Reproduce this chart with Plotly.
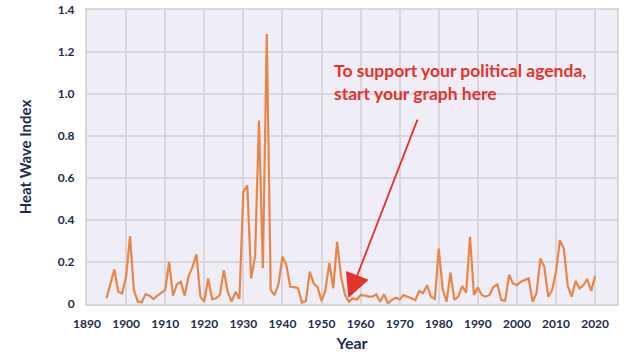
import plotly.graph_objects as go

years = list(range(1895, 2021))
heat_wave_index = [
    0.027, 0.095, 0.165, 0.058, 0.050, 0.130, 0.323, 0.066, 0.011, 0.008,  # 1895-1904
    0.047, 0.040, 0.024, 0.040, 0.053, 0.066, 0.200, 0.040, 0.093, 0.106,  # 1905-1914
    0.040, 0.133, 0.177, 0.236, 0.035, 0.011, 0.122, 0.023, 0.027, 0.043,  # 1915-1924
    0.161, 0.058, 0.011, 0.058, 0.024, 0.534, 0.565, 0.122, 0.225, 0.874,  # 1925-1934
    0.170, 1.286, 0.066, 0.043, 0.095, 0.225, 0.185, 0.082, 0.080, 0.075,  # 1935-1944
    0.006, 0.014, 0.154, 0.098, 0.080, 0.014, 0.066, 0.196, 0.075, 0.296,  # 1945-1954
    0.131, 0.043, 0.011, 0.027, 0.020, 0.043, 0.040, 0.035, 0.035, 0.046,  # 1955-1964
    0.011, 0.046, 0.003, 0.019, 0.030, 0.022, 0.043, 0.035, 0.027, 0.019,  # 1965-1974
    0.062, 0.051, 0.090, 0.035, 0.025, 0.264, 0.070, 0.011, 0.149, 0.019,  # 1975-1984
    0.035, 0.086, 0.054, 0.320, 0.043, 0.078, 0.043, 0.035, 0.043, 0.082,  # 1985-1994
    0.093, 0.019, 0.016, 0.138, 0.098, 0.090, 0.106, 0.114, 0.122, 0.011,  # 1995-2004
    0.051, 0.217, 0.177, 0.035, 0.066, 0.154, 0.304, 0.264, 0.086, 0.035,  # 2005-2014
    0.109, 0.074, 0.090, 0.118, 0.062, 0.133,                              # 2015-2020
]

x_ticks = list(range(1890, 2021, 10))
y_ticks = [0, 0.2, 0.4, 0.6, 0.8, 1.0, 1.2, 1.4]
y_tick_labels = ["0", "0.2", "0.4", "0.6", "0.8", "1.0", "1.2", "1.4"]

annotation_text = "To support your political agenda,<br>start your graph here"
arrow_tip = (1956.9, 0.028)
arrow_tail = (1974.7, 0.885)

navy = "#1D2B4C"
red = "#E5322B"

fig = go.Figure()
fig.add_trace(go.Scatter(
    x=years, y=heat_wave_index, mode="lines",
    line=dict(color="#E8864A", width=2.2),
    hoverinfo="x+y",
))

fig.add_annotation(
    x=arrow_tip[0], y=arrow_tip[1], xref="x", yref="y",
    ax=arrow_tail[0], ay=arrow_tail[1], axref="x", ayref="y",
    showarrow=True, arrowhead=2, arrowsize=2.7, arrowwidth=1.8,
    arrowcolor=red, text="",
)
fig.add_annotation(
    x=1952.6, y=1.057, xref="x", yref="y",
    text=annotation_text, showarrow=False,
    xanchor="left", yanchor="middle", align="left",
    font=dict(family="Lato", size=17.5, color=red, weight="bold"),
)

fig.update_layout(
    width=624, height=354,
    margin=dict(l=87, r=7, t=10, b=50),
    paper_bgcolor="white",
    plot_bgcolor="#EFEDF5",
    showlegend=False,
    font=dict(family="Lato", color=navy),
)
fig.update_xaxes(
    range=[1890, 2025.6], tickvals=x_ticks,
    showgrid=True, gridcolor="#D8D7DC", gridwidth=1.5,
    showline=True, linecolor="#D8D7DC", linewidth=2, mirror=True,
    ticks="", zeroline=False, ticklabelstandoff=8, automargin=False,
    tickfont=dict(family="Lato", size=12, color=navy, weight="bold"),
    title=dict(text="Year", font=dict(family="Lato", size=16, color=navy, weight="bold"), standoff=7),
)
fig.update_yaxes(
    range=[0, 1.4], tickvals=y_ticks, ticktext=y_tick_labels,
    showgrid=True, gridcolor="#D8D7DC", gridwidth=1.5,
    showline=True, linecolor="#D8D7DC", linewidth=2, mirror=True,
    ticks="", zeroline=False, ticklabelstandoff=8, automargin=False,
    tickfont=dict(family="Lato", size=12, color=navy, weight="bold"),
    title=dict(text="Heat Wave Index", font=dict(family="Lato", size=15, color=navy, weight="bold"), standoff=23),
)

fig.write_html("out.html")
